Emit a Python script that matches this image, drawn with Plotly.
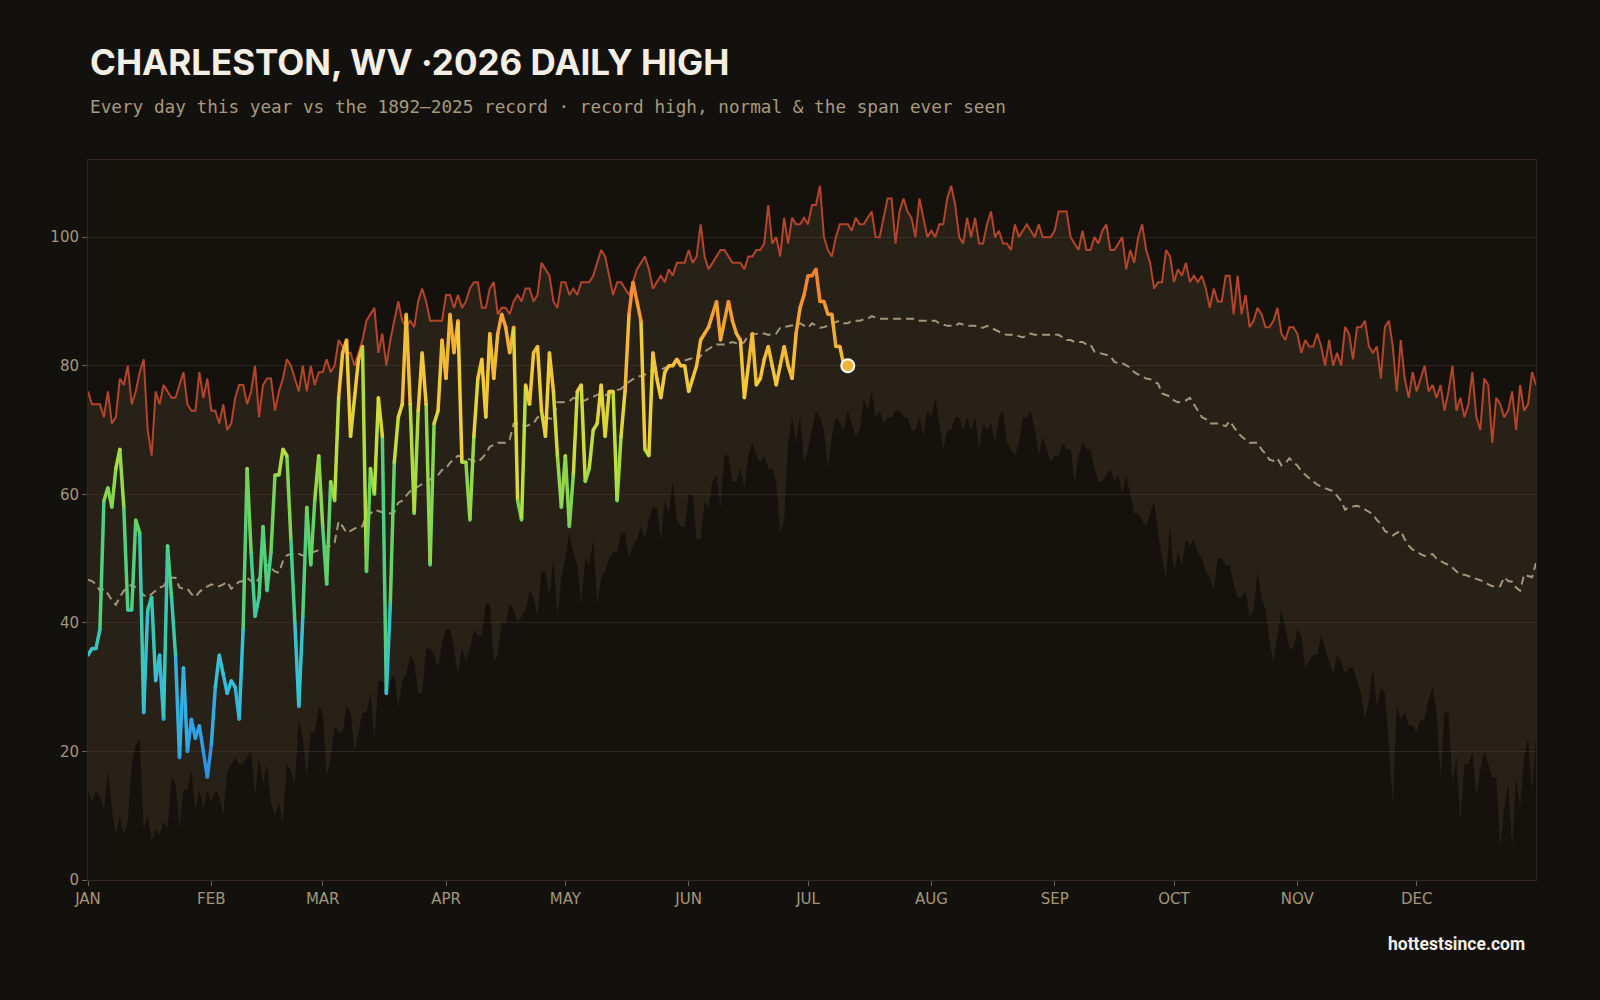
import plotly.graph_objects as go
from plotly.colors import sample_colorscale

# ---------------- data (°F, day-of-year index 0 = Jan 1) ----------------
RECORD_HIGH = [
    76, 74, 74, 74, 72, 76, 71, 72, 78, 77,
    80, 74, 76, 79, 81, 70, 66, 76, 74, 77,
    76, 75, 75, 77, 79, 74, 73, 73, 79, 75,
    78, 73, 73, 71, 74, 70, 71, 75, 77, 77,
    74, 76, 80, 72, 77, 78, 78, 73, 76, 78,
    81, 80, 78, 76, 80, 76, 80, 77, 79, 79,
    81, 79, 80, 84, 83, 82, 82, 80, 82, 84,
    87, 88, 89, 82, 85, 80, 84, 87, 90, 87,
    86, 87, 86, 90, 92, 90, 87, 87, 87, 87,
    91, 91, 89, 91, 89, 90, 92, 93, 93, 89,
    89, 92, 93, 88, 89, 89, 88, 90, 91, 90,
    92, 92, 90, 91, 96, 95, 94, 90, 89, 93,
    93, 91, 92, 91, 93, 93, 93, 94, 96, 98,
    97, 94, 91, 93, 93, 92, 91, 93, 95, 96,
    97, 95, 92, 93, 94, 93, 95, 94, 96, 96,
    96, 98, 96, 97, 102, 97, 95, 96, 97, 98,
    98, 97, 96, 96, 96, 95, 97, 97, 98, 98,
    99, 105, 99, 100, 97, 103, 99, 103, 102, 102,
    103, 102, 105, 105, 108, 100, 98, 97, 100, 102,
    102, 102, 101, 103, 102, 102, 103, 104, 100, 100,
    103, 106, 106, 99, 104, 106, 104, 103, 100, 106,
    103, 100, 101, 100, 102, 102, 106, 108, 105, 100,
    99, 103, 100, 103, 99, 99, 102, 104, 100, 101,
    99, 99, 98, 102, 100, 101, 102, 101, 100, 102,
    100, 100, 100, 101, 104, 104, 104, 100, 99, 98,
    101, 98, 98, 100, 99, 101, 102, 98, 98, 99,
    100, 95, 98, 96, 100, 102, 98, 96, 92, 93,
    93, 98, 97, 93, 95, 94, 96, 93, 94, 93,
    94, 92, 89, 92, 90, 90, 94, 94, 88, 94,
    88, 91, 86, 87, 89, 88, 86, 86, 87, 89,
    85, 84, 86, 86, 85, 82, 84, 83, 83, 85,
    83, 80, 84, 80, 82, 80, 86, 85, 81, 86,
    86, 87, 83, 82, 83, 78, 86, 87, 83, 76,
    84, 78, 75, 79, 76, 78, 80, 76, 77, 75,
    77, 73, 76, 80, 73, 75, 72, 74, 79, 72,
    70, 78, 77, 68, 75, 74, 72, 73, 76, 70,
    77, 73, 74, 79, 77,
]

RECORD_LOW = [
    14, 12, 14, 13, 11, 17, 11, 7, 10, 7,
    9, 18, 21, 22, 8, 10, 6, 8, 7, 9,
    8, 16, 15, 8, 14, 14, 17, 11, 14, 11,
    14, 12, 14, 13, 10, 17, 18, 19, 18, 18,
    19, 20, 13, 19, 15, 18, 12, 10, 12, 9,
    18, 17, 15, 25, 22, 16, 23, 23, 27, 26,
    16, 19, 24, 23, 23, 27, 26, 20, 23, 26,
    26, 29, 22, 31, 31, 30, 31, 32, 27, 31,
    32, 35, 34, 29, 29, 36, 36, 35, 33, 37,
    39, 39, 36, 32, 36, 34, 36, 39, 38, 38,
    43, 43, 34, 35, 40, 40, 43, 42, 40, 41,
    42, 45, 44, 41, 48, 48, 44, 50, 41, 47,
    50, 54, 51, 49, 43, 50, 49, 53, 43, 47,
    48, 50, 51, 51, 54, 54, 50, 52, 53, 55,
    53, 56, 58, 58, 53, 59, 57, 62, 56, 55,
    55, 60, 60, 53, 53, 59, 58, 62, 63, 58,
    66, 66, 62, 62, 64, 61, 66, 68, 66, 65,
    66, 64, 64, 62, 54, 56, 68, 72, 68, 72,
    65, 67, 70, 73, 72, 70, 64, 69, 72, 71,
    70, 73, 71, 69, 70, 75, 73, 76, 72, 73,
    71, 72, 72, 73, 73, 72, 72, 70, 70, 72,
    69, 73, 72, 75, 71, 67, 70, 70, 72, 72,
    70, 72, 70, 72, 67, 71, 70, 71, 68, 72,
    73, 68, 67, 66, 68, 72, 72, 73, 70, 66,
    69, 67, 65, 66, 66, 68, 67, 67, 62, 66,
    68, 67, 67, 64, 62, 62, 63, 64, 62, 63,
    60, 63, 60, 57, 57, 56, 55, 57, 59, 54,
    50, 47, 55, 48, 51, 49, 53, 52, 53, 51,
    50, 48, 47, 45, 50, 50, 49, 49, 46, 44,
    44, 45, 41, 42, 48, 44, 42, 37, 34, 38,
    42, 39, 36, 36, 39, 38, 33, 34, 35, 35,
    38, 36, 34, 32, 35, 34, 32, 33, 33, 31,
    29, 25, 28, 33, 27, 30, 29, 21, 12, 27,
    25, 26, 24, 24, 23, 25, 25, 28, 30, 26,
    16, 26, 26, 15, 19, 9, 18, 18, 20, 13,
    17, 20, 18, 16, 16, 5, 11, 15, 5, 16,
    11, 19, 22, 14, 22,
]

NORMAL = [
    46.7, 46.5, 46, 45, 45.3, 44.5, 43.5, 42.8, 44, 45,
    45.5, 46, 45.5, 45, 44.3, 44, 44.5, 45, 45.5, 45.7,
    46.7, 47, 47, 45.5, 45.3, 45.3, 44.5, 44, 44.8, 45.3,
    45.7, 46, 45.7, 45.7, 46, 46.4, 45.3, 45.8, 46.4, 46.5,
    47, 46.5, 46, 47, 47.5, 49, 48.5, 48, 47.8, 49.6,
    50.5, 50.7, 50.7, 50.7, 50.5, 50.7, 50.8, 51, 51.2, 51.5,
    51.8, 52, 52.5, 55.8, 55, 54, 54.3, 54.7, 55, 55,
    56.9, 57, 57.6, 57.4, 57.2, 57, 57, 57.2, 58.7, 59,
    59.8, 60.5, 61, 61.2, 61.6, 62, 62.3, 62.6, 63, 63.8,
    64, 64.9, 65.4, 66, 65.8, 65.6, 65.4, 65.2, 65, 65.6,
    66.3, 67.4, 67.7, 68, 68, 68, 68.5, 71, 71, 71,
    70.6, 70.8, 71, 72, 72, 72, 71.8, 71.7, 74.3, 74.3,
    74.3, 74.5, 75, 74.8, 74.6, 74.6, 75, 75.2, 75.5, 75.7,
    75.4, 75.7, 76, 76.2, 76.4, 77, 77.5, 77.9, 78.3, 78.4,
    78.6, 79, 79.3, 79, 79.4, 79.7, 79.8, 80, 80.8, 80.8,
    80.8, 81, 81.2, 80.8, 81.5, 82.2, 82.6, 83, 83.3, 83.3,
    83.3, 83.5, 83.7, 83.5, 83.3, 83.7, 84.8, 84.9, 85, 85,
    85, 84.8, 84.9, 85, 85.9, 86, 86.2, 86.2, 86.4, 86.6,
    86.2, 85.9, 86.6, 86.2, 85.9, 86, 86.2, 86.6, 86.8, 87,
    86.6, 86.6, 87, 87, 87, 87.2, 87.3, 87.7, 87.5, 87.3,
    87.3, 87.3, 87.3, 87.3, 87.3, 87.3, 87.3, 87.3, 87.3, 87,
    87, 87, 87, 87, 86.6, 86.4, 86.2, 86.2, 86.2, 86.6,
    86.4, 86.2, 86.2, 86.2, 86, 85.9, 86.2, 85.9, 85.5, 85.2,
    85, 84.8, 84.8, 84.8, 84.6, 84.4, 84.8, 85, 84.8, 84.8,
    84.8, 84.8, 84.8, 84.8, 84.8, 84.4, 84, 84, 83.7, 83.7,
    83.7, 83.3, 83.3, 82.2, 82, 81.9, 81.6, 81.5, 80.6, 80.4,
    80.4, 80, 79.7, 79, 78.6, 78.3, 78, 77.9, 77.5, 77.2,
    75.7, 75.5, 75.2, 74.6, 74.3, 74.5, 74.6, 75, 74, 73.2,
    72, 71.7, 71, 71, 71, 70.8, 70.6, 71.4, 70.5, 69.6,
    69, 68.5, 68, 68, 68, 67, 66.3, 65.4, 65.2, 65.6,
    64.5, 64.8, 65.6, 65, 64.5, 63.6, 63, 62.5, 62, 61.5,
    61.2, 60.9, 60.7, 60.5, 59.7, 59, 57.6, 58, 58.1, 58.2,
    58, 57.6, 57.2, 56.9, 56, 55.4, 54.3, 54, 53.6, 54,
    54.3, 53, 52, 51.4, 51, 50.7, 50.4, 50.6, 50.7, 50,
    49.6, 49.3, 49, 48.6, 48, 47.5, 47.5, 47.3, 47.1, 46.9,
    46.7, 46.4, 46, 45.7, 45.7, 45.7, 47.1, 46.5, 46.4, 45.5,
    45, 47.5, 47.3, 47.1, 49.3,
]

HIGH_2026 = [
    35, 36, 36, 39, 59, 61, 58, 64, 67, 58,
    42, 42, 56, 54, 26, 42, 44, 31, 35, 25,
    52, 44, 35, 19, 33, 20, 25, 22, 24, 20,
    16, 21, 30, 35, 32, 29, 31, 30, 25, 39,
    64, 51, 41, 44, 55, 45, 51, 63, 63, 67,
    66, 53, 40, 27, 41, 58, 49, 59, 66, 55,
    46, 62, 59, 75, 82, 84, 69, 75, 81, 83,
    48, 64, 60, 75, 69, 29, 43, 65, 72, 74,
    88, 74, 57, 73, 82, 74, 49, 71, 73, 84,
    78, 88, 82, 87, 65, 65, 56, 69, 78, 81,
    72, 85, 78, 85, 88, 86, 82, 86, 59, 56,
    77, 74, 82, 83, 73, 69, 82, 76, 66, 58,
    66, 55, 63, 76, 77, 62, 64, 70, 71, 77,
    69, 76, 76, 59, 69, 76, 88, 93, 90, 87,
    67, 66, 82, 78, 75, 79, 80, 80, 81, 80,
    80, 76, 78, 80, 84, 85, 86, 88, 90, 84,
    87, 90, 87, 85, 84, 75, 80, 85, 77, 78,
    81, 83, 80, 77, 80, 83, 80, 78, 85, 89,
    91, 94, 94, 95, 90, 90, 88, 88, 83, 83,
    80, 80,
]

MONTH_TICK_DAYS = [0, 31, 59, 90, 120, 151, 181, 212, 243, 273, 304, 334]
MONTH_LABELS = ["JAN", "FEB", "MAR", "APR", "MAY", "JUN",
                "JUL", "AUG", "SEP", "OCT", "NOV", "DEC"]
Y_TICKS = [0, 20, 40, 60, 80, 100]

DAYS = list(range(len(RECORD_HIGH)))
DAYS_2026 = list(range(len(HIGH_2026)))

# ---------------- styling ----------------
PAPER = "#13110d"
PLOT_BG = "#15120e"
BAND = "rgba(92,76,52,0.26)"
RH_COLOR = "#b4442a"
NORMAL_COLOR = "#b0a487"
TICK_COLOR = "#a39679"
GRID = "#2b251d"

TEMP_MIN, TEMP_MAX = 10, 100
COLORSCALE = [
    [0.00, "#2a78e0"],
    [0.11, "#2f98e6"],
    [0.24, "#36c0de"],
    [0.39, "#3fce92"],
    [0.53, "#72d455"],
    [0.64, "#bfe03c"],
    [0.73, "#f2d03a"],
    [0.82, "#f5b335"],
    [0.91, "#f48a30"],
    [1.00, "#e8602a"],
]


def temp_color(t):
    v = (t - TEMP_MIN) / (TEMP_MAX - TEMP_MIN)
    v = min(max(v, 0.0), 1.0)
    return sample_colorscale(COLORSCALE, [v])[0]


fig = go.Figure()

# record low (invisible boundary of the band)
fig.add_trace(go.Scatter(x=DAYS, y=RECORD_LOW, mode="lines",
                         line=dict(width=0, color="rgba(0,0,0,0)"),
                         hoverinfo="skip", showlegend=False))
# span ever seen: band between record low and record high, plus the record-high line
fig.add_trace(go.Scatter(x=DAYS, y=RECORD_HIGH, mode="lines", fill="tonexty",
                         fillcolor=BAND, line=dict(width=2, color=RH_COLOR),
                         hoverinfo="skip", showlegend=False))
# normal
fig.add_trace(go.Scatter(x=DAYS, y=NORMAL, mode="lines",
                         line=dict(width=2, color=NORMAL_COLOR, dash="8px,5px"),
                         opacity=0.9, hoverinfo="skip", showlegend=False))

# 2026 daily highs, coloured by temperature segment by segment
for i in range(len(HIGH_2026) - 1):
    c = temp_color((HIGH_2026[i] + HIGH_2026[i + 1]) / 2)
    fig.add_trace(go.Scatter(x=DAYS_2026[i:i + 2], y=HIGH_2026[i:i + 2], mode="lines",
                             line=dict(width=3.5, color=c),
                             hoverinfo="skip", showlegend=False))
# joints
fig.add_trace(go.Scatter(x=DAYS_2026, y=HIGH_2026, mode="markers",
                         marker=dict(size=3.5, color=[temp_color(t) for t in HIGH_2026],
                                     line=dict(width=0)),
                         hoverinfo="skip", showlegend=False))
# latest day marker
fig.add_trace(go.Scatter(x=[DAYS_2026[-1]], y=[HIGH_2026[-1]], mode="markers",
                         marker=dict(size=13, color="#efb33a",
                                     line=dict(width=2, color="#ffffff")),
                         hoverinfo="skip", showlegend=False))

fig.update_layout(
    width=1600, height=1000,
    paper_bgcolor=PAPER, plot_bgcolor=PLOT_BG,
    margin=dict(l=88, r=64, t=160, b=120),
    showlegend=False,
    xaxis=dict(range=[0, 364], tickmode="array", tickvals=MONTH_TICK_DAYS,
               ticktext=MONTH_LABELS, showgrid=False, zeroline=False,
               ticks="outside", ticklen=5, tickcolor="#6b604e",
               tickfont=dict(family="DejaVu Sans", size=15, color=TICK_COLOR),
               showline=True, linecolor="#2f2920", linewidth=1, mirror=True),
    yaxis=dict(range=[0, 112], tickmode="array", tickvals=Y_TICKS,
               showgrid=True, gridcolor=GRID, gridwidth=1, zeroline=False,
               ticks="outside", ticklen=5, tickcolor="#6b604e",
               tickfont=dict(family="DejaVu Sans", size=15, color=TICK_COLOR),
               showline=True, linecolor="#2f2920", linewidth=1, mirror=True),
    annotations=[
        dict(text="<b>CHARLESTON, WV ·2026 DAILY HIGH</b>", xref="paper", yref="paper",
             x=0, y=1.1368, xanchor="left", yanchor="middle", showarrow=False,
             font=dict(family="Inter", size=35, color="#f4efe4")),
        dict(text="Every day this year vs the 1892–2025 record · record high, normal & the span ever seen",
             xref="paper", yref="paper", x=0, y=1.0736, xanchor="left", yanchor="middle",
             showarrow=False,
             font=dict(family="DejaVu Sans Mono", size=17.7, color="#a89a7e")),
        dict(text="<b>hottestsince.com</b>", xref="paper", yref="paper",
             x=0.9938, y=-0.0889, xanchor="right", yanchor="middle", showarrow=False,
             font=dict(family="Roboto", size=17.5, color="#f4efe4")),
    ],
)

fig.write_html("out.html")
